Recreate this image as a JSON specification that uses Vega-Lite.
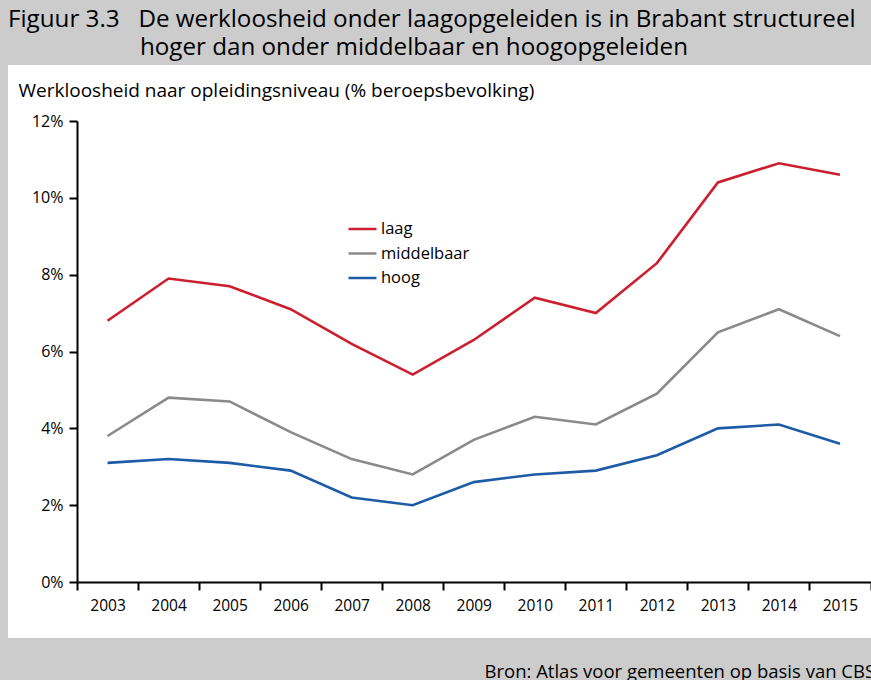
{
  "$schema": "https://vega.github.io/schema/vega-lite/v6.json",
  "width": 863,
  "height": 573,
  "autosize": {"type": "none"},
  "padding": {"left": 8, "top": 65, "right": 0, "bottom": 42},
  "background": "#cccccc",
  "view": {"fill": "white", "stroke": null},
  "title": {
    "text": ["Figuur 3.3\u00a0\u00a0\u00a0De werkloosheid onder laagopgeleiden is in Brabant structureel", "\u200b\u00a0\u00a0\u00a0\u00a0\u00a0\u00a0\u00a0\u00a0\u00a0\u00a0\u00a0\u00a0\u00a0\u00a0\u00a0\u00a0\u00a0\u00a0\u00a0\u00a0\u00a0hoger dan onder middelbaar en hoogopgeleiden"],
    "anchor": "start",
    "frame": "group",
    "font": "Open Sans",
    "fontSize": 24.2,
    "fontWeight": "normal",
    "color": "#000000",
    "lineHeight": 28,
    "offset": 5
  },
  "data": {
    "values": [
      {"year": "2003", "niveau": "laag", "v": 6.8},
      {"year": "2004", "niveau": "laag", "v": 7.9},
      {"year": "2005", "niveau": "laag", "v": 7.7},
      {"year": "2006", "niveau": "laag", "v": 7.1},
      {"year": "2007", "niveau": "laag", "v": 6.2},
      {"year": "2008", "niveau": "laag", "v": 5.4},
      {"year": "2009", "niveau": "laag", "v": 6.3},
      {"year": "2010", "niveau": "laag", "v": 7.4},
      {"year": "2011", "niveau": "laag", "v": 7.0},
      {"year": "2012", "niveau": "laag", "v": 8.3},
      {"year": "2013", "niveau": "laag", "v": 10.4},
      {"year": "2014", "niveau": "laag", "v": 10.9},
      {"year": "2015", "niveau": "laag", "v": 10.6},
      {"year": "2003", "niveau": "middelbaar", "v": 3.8},
      {"year": "2004", "niveau": "middelbaar", "v": 4.8},
      {"year": "2005", "niveau": "middelbaar", "v": 4.7},
      {"year": "2006", "niveau": "middelbaar", "v": 3.9},
      {"year": "2007", "niveau": "middelbaar", "v": 3.2},
      {"year": "2008", "niveau": "middelbaar", "v": 2.8},
      {"year": "2009", "niveau": "middelbaar", "v": 3.7},
      {"year": "2010", "niveau": "middelbaar", "v": 4.3},
      {"year": "2011", "niveau": "middelbaar", "v": 4.1},
      {"year": "2012", "niveau": "middelbaar", "v": 4.9},
      {"year": "2013", "niveau": "middelbaar", "v": 6.5},
      {"year": "2014", "niveau": "middelbaar", "v": 7.1},
      {"year": "2015", "niveau": "middelbaar", "v": 6.4},
      {"year": "2003", "niveau": "hoog", "v": 3.1},
      {"year": "2004", "niveau": "hoog", "v": 3.2},
      {"year": "2005", "niveau": "hoog", "v": 3.1},
      {"year": "2006", "niveau": "hoog", "v": 2.9},
      {"year": "2007", "niveau": "hoog", "v": 2.2},
      {"year": "2008", "niveau": "hoog", "v": 2.0},
      {"year": "2009", "niveau": "hoog", "v": 2.6},
      {"year": "2010", "niveau": "hoog", "v": 2.8},
      {"year": "2011", "niveau": "hoog", "v": 2.9},
      {"year": "2012", "niveau": "hoog", "v": 3.3},
      {"year": "2013", "niveau": "hoog", "v": 4.0},
      {"year": "2014", "niveau": "hoog", "v": 4.1},
      {"year": "2015", "niveau": "hoog", "v": 3.6}
    ]
  },
  "mark": {"type": "line", "strokeWidth": 2.6},
  "encoding": {
    "x": {
      "field": "year",
      "type": "ordinal",
      "scale": {"range": [69, 862.5], "paddingInner": 0, "paddingOuter": 0},
      "axis": {
        "orient": "bottom",
        "offset": -56,
        "labelAngle": 0,
        "tickBand": "extent",
        "domainColor": "#000000",
        "domainWidth": 2,
        "tickColor": "#000000",
        "tickWidth": 2,
        "tickSize": 8,
        "labelPadding": 8,
        "labelFont": "Open Sans",
        "labelFontSize": 15.5,
        "labelColor": "#000000",
        "title": "Bron: Atlas voor gemeenten op basis van CBS",
        "titleFont": "Open Sans",
        "titleFontSize": 18.5,
        "titleFontWeight": "normal",
        "titleColor": "#000000",
        "titleAnchor": "start",
        "titleAlign": "left",
        "titleBaseline": "alphabetic",
        "titleX": 476,
        "titleY": 95
      }
    },
    "y": {
      "field": "v",
      "type": "quantitative",
      "scale": {"domain": [0, 12], "range": [517, 56], "nice": false, "zero": true},
      "axis": {
        "orient": "left",
        "offset": -69,
        "values": [0, 2, 4, 6, 8, 10, 12],
        "labelExpr": "datum.value + '%'",
        "grid": false,
        "domainColor": "#000000",
        "domainWidth": 2,
        "tickColor": "#000000",
        "tickWidth": 2,
        "tickSize": 8,
        "labelPadding": 6,
        "labelFont": "Open Sans",
        "labelFontSize": 16,
        "labelColor": "#000000",
        "title": "Werkloosheid naar opleidingsniveau (% beroepsbevolking)",
        "titleFont": "Open Sans",
        "titleFontSize": 19,
        "titleFontWeight": "normal",
        "titleColor": "#000000",
        "titleAngle": 0,
        "titleAlign": "left",
        "titleBaseline": "middle",
        "titleX": -59,
        "titleY": 25
      }
    },
    "color": {
      "field": "niveau",
      "type": "nominal",
      "scale": {"domain": ["laag", "middelbaar", "hoog"], "range": ["#cc1f2e", "#8a8a8a", "#1d5ba6"]},
      "legend": {
        "orient": "none",
        "legendX": 339,
        "legendY": 154,
        "title": null,
        "symbolType": "stroke",
        "symbolSize": 784,
        "symbolStrokeWidth": 2.6,
        "labelFont": "Open Sans",
        "labelFontSize": 16.5,
        "labelColor": "#000000",
        "labelOffset": 3,
        "clipHeight": 20,
        "rowPadding": 4.5
      }
    }
  }
}
